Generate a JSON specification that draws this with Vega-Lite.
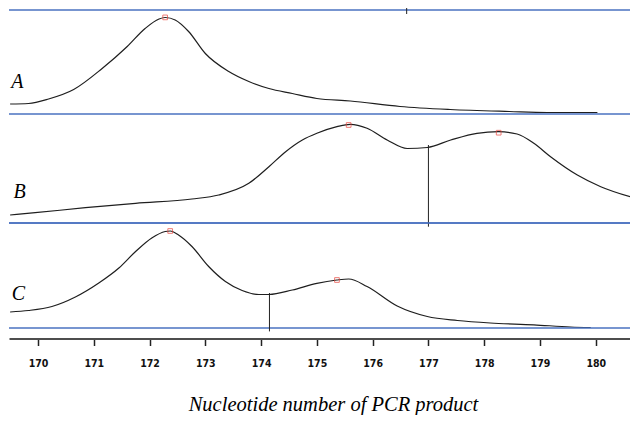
{
  "$schema": "https://vega.github.io/schema/vega-lite/v6.json",
  "padding": {"left": 7, "top": 7, "right": 0, "bottom": 0},
  "spacing": 0,
  "bounds": "flush",
  "config": {"view": {"stroke": null}, "background": "white"},
  "datasets": {
    "curves": [
      {"panel": "A", "position": 169.50, "signal": 10},
      {"panel": "A", "position": 169.83, "signal": 10.5},
      {"panel": "A", "position": 170.19, "signal": 15},
      {"panel": "A", "position": 170.64, "signal": 24.5},
      {"panel": "A", "position": 171.15, "signal": 45.5},
      {"panel": "A", "position": 171.60, "signal": 67.5},
      {"panel": "A", "position": 171.92, "signal": 85.5},
      {"panel": "A", "position": 172.17, "signal": 95},
      {"panel": "A", "position": 172.28, "signal": 96.5},
      {"panel": "A", "position": 172.46, "signal": 94},
      {"panel": "A", "position": 172.70, "signal": 82.5},
      {"panel": "A", "position": 173.00, "signal": 60.5},
      {"panel": "A", "position": 173.42, "signal": 42.5},
      {"panel": "A", "position": 173.78, "signal": 32.5},
      {"panel": "A", "position": 174.14, "signal": 25.5},
      {"panel": "A", "position": 174.56, "signal": 20.5},
      {"panel": "A", "position": 175.00, "signal": 15.5},
      {"panel": "A", "position": 175.60, "signal": 13},
      {"panel": "A", "position": 176.49, "signal": 7.5},
      {"panel": "A", "position": 177.39, "signal": 4.5},
      {"panel": "A", "position": 178.45, "signal": 2.5},
      {"panel": "A", "position": 179.13, "signal": 1.5},
      {"panel": "A", "position": 180.03, "signal": 1.5},
      {"panel": "B", "position": 169.50, "signal": 8},
      {"panel": "B", "position": 169.95, "signal": 10.3},
      {"panel": "B", "position": 170.85, "signal": 15.3},
      {"panel": "B", "position": 171.75, "signal": 19.7},
      {"panel": "B", "position": 172.76, "signal": 24},
      {"panel": "B", "position": 173.24, "signal": 28},
      {"panel": "B", "position": 173.78, "signal": 39.7},
      {"panel": "B", "position": 174.14, "signal": 56.3},
      {"panel": "B", "position": 174.44, "signal": 71.3},
      {"panel": "B", "position": 174.74, "signal": 83},
      {"panel": "B", "position": 175.00, "signal": 89.7},
      {"panel": "B", "position": 175.36, "signal": 96.3},
      {"panel": "B", "position": 175.60, "signal": 98.7},
      {"panel": "B", "position": 175.90, "signal": 94.7},
      {"panel": "B", "position": 176.26, "signal": 83},
      {"panel": "B", "position": 176.62, "signal": 74.5},
      {"panel": "B", "position": 176.98, "signal": 75.5},
      {"panel": "B", "position": 177.40, "signal": 83},
      {"panel": "B", "position": 177.87, "signal": 89.7},
      {"panel": "B", "position": 178.26, "signal": 91.3},
      {"panel": "B", "position": 178.59, "signal": 89},
      {"panel": "B", "position": 178.89, "signal": 79.7},
      {"panel": "B", "position": 179.19, "signal": 66.3},
      {"panel": "B", "position": 179.67, "signal": 48},
      {"panel": "B", "position": 180.09, "signal": 36.3},
      {"panel": "B", "position": 180.65, "signal": 25.7},
      {"panel": "C", "position": 169.50, "signal": 16},
      {"panel": "C", "position": 169.83, "signal": 17.5},
      {"panel": "C", "position": 170.25, "signal": 21.5},
      {"panel": "C", "position": 170.67, "signal": 31},
      {"panel": "C", "position": 171.09, "signal": 45},
      {"panel": "C", "position": 171.45, "signal": 60},
      {"panel": "C", "position": 171.75, "signal": 76.5},
      {"panel": "C", "position": 172.04, "signal": 90},
      {"panel": "C", "position": 172.28, "signal": 96.5},
      {"panel": "C", "position": 172.37, "signal": 97},
      {"panel": "C", "position": 172.52, "signal": 93},
      {"panel": "C", "position": 172.76, "signal": 81.5},
      {"panel": "C", "position": 173.06, "signal": 61.5},
      {"panel": "C", "position": 173.36, "signal": 46.5},
      {"panel": "C", "position": 173.66, "signal": 37.5},
      {"panel": "C", "position": 173.96, "signal": 33.5},
      {"panel": "C", "position": 174.14, "signal": 33.5},
      {"panel": "C", "position": 174.56, "signal": 38},
      {"panel": "C", "position": 175.00, "signal": 44.7},
      {"panel": "C", "position": 175.36, "signal": 48},
      {"panel": "C", "position": 175.57, "signal": 49},
      {"panel": "C", "position": 175.90, "signal": 41.5},
      {"panel": "C", "position": 176.44, "signal": 22},
      {"panel": "C", "position": 176.98, "signal": 11.5},
      {"panel": "C", "position": 177.52, "signal": 7.5},
      {"panel": "C", "position": 178.11, "signal": 5},
      {"panel": "C", "position": 178.89, "signal": 3.2},
      {"panel": "C", "position": 179.55, "signal": 1},
      {"panel": "C", "position": 179.91, "signal": 0.5}
    ],
    "peaks": [
      {"panel": "A", "position": 172.28, "signal": 96.6},
      {"panel": "B", "position": 175.57, "signal": 98},
      {"panel": "B", "position": 178.26, "signal": 90.3},
      {"panel": "C", "position": 172.37, "signal": 97},
      {"panel": "C", "position": 175.36, "signal": 48}
    ],
    "cursors": [
      {"panel": "A", "position": 176.61, "top": 106, "bottom": 100},
      {"panel": "B", "position": 177.0, "top": 78, "bottom": -3.7},
      {"panel": "C", "position": 174.15, "top": 35, "bottom": -3.4}
    ],
    "labels": [
      {"panel": "A", "position": 169.52, "signal": 26.3, "label": "A"},
      {"panel": "B", "position": 169.56, "signal": 24.7, "label": "B"},
      {"panel": "C", "position": 169.53, "signal": 28.3, "label": "C"}
    ],
    "borders": [{"edge": "bottom", "level": 0}]
  },
  "vconcat": [
    {
      "width": 623, "height": 104,
      "layer": [
        {"data": {"name": "curves"}, "transform": [{"filter": "datum.panel === 'A'"}],
         "mark": {"type": "line", "color": "#1e1e1e", "strokeWidth": 1.2, "interpolate": "monotone"},
         "encoding": {
           "x": {"field": "position", "type": "quantitative", "scale": {"domain": [169.48, 180.65], "nice": false, "zero": false}, "axis": null},
           "y": {"field": "signal", "type": "quantitative", "scale": {"domain": [0, 104], "nice": false, "zero": false}, "axis": null}
         }},
        {"data": {"name": "borders"}, "mark": {"type": "rule", "color": "#4a72c0", "strokeWidth": 1.5}, "encoding": {"y": {"datum": 104, "type": "quantitative"}}},
        {"data": {"name": "borders"}, "mark": {"type": "rule", "color": "#4a72c0", "strokeWidth": 1.5}, "encoding": {"y": {"datum": 0, "type": "quantitative"}}},
        {"data": {"name": "peaks"}, "transform": [{"filter": "datum.panel === 'A'"}],
         "mark": {"type": "point", "shape": "square", "size": 22, "filled": false, "color": "#e8453c", "strokeWidth": 1},
         "encoding": {"x": {"field": "position", "type": "quantitative"}, "y": {"field": "signal", "type": "quantitative"}}},
        {"data": {"name": "cursors"}, "transform": [{"filter": "datum.panel === 'A'"}],
         "mark": {"type": "rule", "color": "#222", "strokeWidth": 1},
         "encoding": {"x": {"field": "position", "type": "quantitative"}, "y": {"field": "top", "type": "quantitative"}, "y2": {"field": "bottom"}}},
        {"data": {"name": "labels"}, "transform": [{"filter": "datum.panel === 'A'"}],
         "mark": {"type": "text", "font": "Liberation Serif", "fontStyle": "italic", "fontSize": 20, "align": "left", "baseline": "alphabetic", "color": "#000"},
         "encoding": {"x": {"field": "position", "type": "quantitative"}, "y": {"field": "signal", "type": "quantitative"}, "text": {"field": "label"}}}
      ]
    },
    {
      "width": 623, "height": 109,
      "layer": [
        {"data": {"name": "curves"}, "transform": [{"filter": "datum.panel === 'B'"}],
         "mark": {"type": "line", "color": "#1e1e1e", "strokeWidth": 1.2, "interpolate": "monotone"},
         "encoding": {
           "x": {"field": "position", "type": "quantitative", "scale": {"domain": [169.48, 180.65], "nice": false, "zero": false}, "axis": null},
           "y": {"field": "signal", "type": "quantitative", "scale": {"domain": [0, 109], "nice": false, "zero": false}, "axis": null}
         }},
        {"data": {"name": "borders"}, "mark": {"type": "rule", "color": "#4a72c0", "strokeWidth": 1.5}, "encoding": {"y": {"datum": 0, "type": "quantitative"}}},
        {"data": {"name": "peaks"}, "transform": [{"filter": "datum.panel === 'B'"}],
         "mark": {"type": "point", "shape": "square", "size": 22, "filled": false, "color": "#e8453c", "strokeWidth": 1},
         "encoding": {"x": {"field": "position", "type": "quantitative"}, "y": {"field": "signal", "type": "quantitative"}}},
        {"data": {"name": "cursors"}, "transform": [{"filter": "datum.panel === 'B'"}],
         "mark": {"type": "rule", "color": "#222", "strokeWidth": 1},
         "encoding": {"x": {"field": "position", "type": "quantitative"}, "y": {"field": "top", "type": "quantitative"}, "y2": {"field": "bottom"}}},
        {"data": {"name": "labels"}, "transform": [{"filter": "datum.panel === 'B'"}],
         "mark": {"type": "text", "font": "Liberation Serif", "fontStyle": "italic", "fontSize": 20, "align": "left", "baseline": "alphabetic", "color": "#000"},
         "encoding": {"x": {"field": "position", "type": "quantitative"}, "y": {"field": "signal", "type": "quantitative"}, "text": {"field": "label"}}}
      ]
    },
    {
      "width": 623, "height": 105,
      "layer": [
        {"data": {"name": "curves"}, "transform": [{"filter": "datum.panel === 'C'"}],
         "mark": {"type": "line", "color": "#1e1e1e", "strokeWidth": 1.2, "interpolate": "monotone"},
         "encoding": {
           "x": {"field": "position", "type": "quantitative", "scale": {"domain": [169.48, 180.65], "nice": false, "zero": false},
                 "axis": {
                   "values": [170, 171, 172, 173, 174, 175, 176, 177, 178, 179, 180],
                   "format": "d", "grid": false, "offset": 10.5,
                   "domainColor": "#4d4d4d", "domainWidth": 2,
                   "tickColor": "#222", "tickWidth": 1.5, "tickSize": 7,
                   "labelFont": "DejaVu Sans Condensed", "labelFontWeight": "bold",
                   "labelFontSize": 10.5, "labelColor": "#111", "labelPadding": 13, "labelBaseline": "top",
                   "title": "Nucleotide number of PCR product",
                   "titleFont": "Liberation Serif", "titleFontStyle": "italic", "titleFontWeight": "normal",
                   "titleFontSize": 20.5, "titleColor": "#000",
                   "titleX": 324, "titleY": 72, "titleAlign": "center", "titleBaseline": "alphabetic"
                 }},
           "y": {"field": "signal", "type": "quantitative", "scale": {"domain": [0, 105], "nice": false, "zero": false}, "axis": null}
         }},
        {"data": {"name": "borders"}, "mark": {"type": "rule", "color": "#4a72c0", "strokeWidth": 1.5}, "encoding": {"y": {"datum": 0, "type": "quantitative"}}},
        {"data": {"name": "borders"}, "mark": {"type": "rule", "color": "#4a72c0", "strokeWidth": 1.5}, "encoding": {"y": {"datum": 105, "type": "quantitative"}}},
        {"data": {"name": "peaks"}, "transform": [{"filter": "datum.panel === 'C'"}],
         "mark": {"type": "point", "shape": "square", "size": 22, "filled": false, "color": "#e8453c", "strokeWidth": 1},
         "encoding": {"x": {"field": "position", "type": "quantitative"}, "y": {"field": "signal", "type": "quantitative"}}},
        {"data": {"name": "cursors"}, "transform": [{"filter": "datum.panel === 'C'"}],
         "mark": {"type": "rule", "color": "#222", "strokeWidth": 1},
         "encoding": {"x": {"field": "position", "type": "quantitative"}, "y": {"field": "top", "type": "quantitative"}, "y2": {"field": "bottom"}}},
        {"data": {"name": "labels"}, "transform": [{"filter": "datum.panel === 'C'"}],
         "mark": {"type": "text", "font": "Liberation Serif", "fontStyle": "italic", "fontSize": 20, "align": "left", "baseline": "alphabetic", "color": "#000"},
         "encoding": {"x": {"field": "position", "type": "quantitative"}, "y": {"field": "signal", "type": "quantitative"}, "text": {"field": "label"}}}
      ]
    }
  ]
}
